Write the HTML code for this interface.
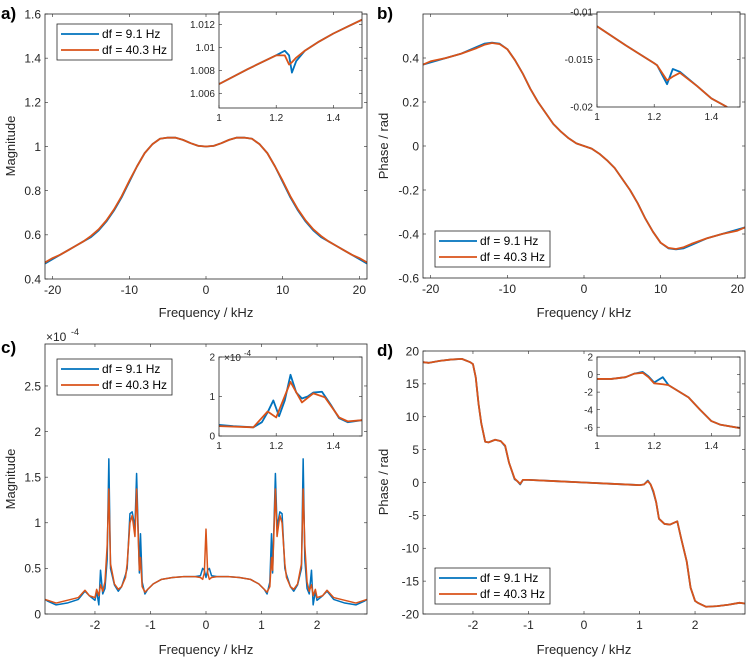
<!DOCTYPE html>
<html><head><meta charset="utf-8"><style>
body{margin:0;background:#fff}
svg{display:block;font-family:"Liberation Sans",Arial,sans-serif}
</style></head><body>
<svg id="fig" width="756" height="661" viewBox="0 0 756 661"></svg>
<script>
// ---------- data ----------
const aFreqPos = [0,1,2,3,4,5,6,7,8,9,10,11,12,13,14,15,16,17,18,19,20,21];
const aBluePos = [1.0,1.003,1.015,1.03,1.04,1.04,1.035,1.01,0.97,0.91,0.84,0.77,0.71,0.66,0.62,0.59,0.57,0.55,0.53,0.51,0.49,0.47];
const aOrangePos = [1.0,1.003,1.015,1.03,1.04,1.04,1.035,1.01,0.97,0.91,0.845,0.775,0.715,0.665,0.625,0.595,0.57,0.55,0.53,0.51,0.495,0.475];
const aiFreq = [1,1.1,1.2,1.23,1.245,1.255,1.27,1.3,1.35,1.4,1.45,1.5];
const aiBlue = [1.0068,1.0081,1.0093,1.0097,1.0093,1.0078,1.0088,1.0097,1.0105,1.0112,1.0118,1.0124];
const aiOrange = [1.0068,1.0081,1.0093,1.0093,1.0085,1.0087,1.0091,1.0097,1.0105,1.0112,1.0118,1.0124];
const bFreqPos = [0,1,2,3,4,5,6,7,8,9,10,11,12,13,14,16,18,20,21];
const bBluePos = [0,-0.012,-0.035,-0.065,-0.10,-0.15,-0.20,-0.26,-0.33,-0.39,-0.44,-0.465,-0.47,-0.465,-0.45,-0.42,-0.40,-0.38,-0.37];
const bOrangePos = [0,-0.012,-0.035,-0.065,-0.10,-0.15,-0.20,-0.26,-0.33,-0.39,-0.44,-0.463,-0.468,-0.46,-0.445,-0.42,-0.40,-0.385,-0.37];
const biFreq = [1,1.1,1.2,1.21,1.245,1.265,1.29,1.35,1.4,1.455];
const biBlue = [-0.0115,-0.0135,-0.0154,-0.0156,-0.0176,-0.0160,-0.0163,-0.0178,-0.0191,-0.0200];
const biOrange = [-0.0115,-0.0135,-0.0154,-0.0156,-0.0172,-0.0168,-0.0164,-0.0178,-0.0191,-0.0200];
const cFreqPos = [0,0.03,0.06,0.1,0.2,0.4,0.6,0.8,0.95,1.05,1.1,1.15,1.18,1.2,1.25,1.28,1.33,1.37,1.42,1.45,1.52,1.58,1.65,1.72,1.75,1.78,1.82,1.86,1.9,1.93,1.97,2.0,2.1,2.18,2.3,2.5,2.7,2.85,2.9];
const cBluePos = [0.40,0.48,0.50,0.42,0.41,0.41,0.40,0.38,0.33,0.27,0.22,0.35,0.88,0.45,1.54,0.95,1.12,1.10,0.50,0.43,0.30,0.25,0.32,0.50,1.70,0.60,0.28,0.22,0.48,0.10,0.25,0.15,0.20,0.25,0.16,0.12,0.10,0.14,0.16];
const cOrangePos = [0.93,0.45,0.38,0.40,0.41,0.41,0.40,0.38,0.33,0.27,0.24,0.30,0.62,0.48,1.37,0.85,1.08,1.00,0.55,0.40,0.30,0.27,0.33,0.55,1.37,0.75,0.35,0.25,0.32,0.20,0.27,0.18,0.20,0.26,0.18,0.15,0.12,0.15,0.16];
const ciFreqB = [1,1.05,1.12,1.15,1.17,1.19,1.21,1.23,1.25,1.27,1.29,1.31,1.33,1.36,1.39,1.42,1.45,1.5];
const ciBlue = [0.28,0.25,0.22,0.35,0.6,0.9,0.5,0.9,1.55,1.1,0.95,1.0,1.1,1.12,0.8,0.45,0.35,0.4];
const ciFreqO = [1,1.12,1.17,1.2,1.25,1.29,1.33,1.37,1.42,1.45,1.5];
const ciOrange = [0.25,0.22,0.62,0.47,1.37,0.85,1.08,0.98,0.47,0.37,0.4];
const dFreq = [-2.9,-2.8,-2.6,-2.4,-2.2,-2.05,-2.0,-1.95,-1.9,-1.85,-1.78,-1.72,-1.6,-1.5,-1.42,-1.35,-1.25,-1.2,-1.15,-1.1,-1.0,-0.5,0,0.5,1.0,1.08,1.15,1.2,1.25,1.3,1.35,1.45,1.55,1.68,1.75,1.85,1.92,2.0,2.05,2.1,2.2,2.4,2.6,2.8,2.9];
const dBlue = [18.3,18.2,18.5,18.7,18.8,18.3,18.0,16,12,9,6.2,6.1,6.5,6.3,5.5,3.0,0.5,0.2,-0.3,0.4,0.4,0.2,0,-0.2,-0.4,-0.3,0.3,-0.3,-1.5,-3.0,-5.5,-6.3,-6.4,-5.9,-8.5,-12,-16,-18,-18.3,-18.5,-18.9,-18.8,-18.6,-18.3,-18.4];
const dOrange = [18.3,18.2,18.5,18.7,18.8,18.3,18.0,16,12,9,6.2,6.1,6.5,6.3,5.6,3.0,0.6,0.2,-0.2,0.4,0.4,0.2,0,-0.2,-0.4,-0.3,0.2,-0.3,-1.3,-3.0,-5.5,-6.3,-6.4,-5.9,-8.5,-12,-16,-18,-18.3,-18.5,-18.9,-18.8,-18.6,-18.3,-18.4];
const diFreq = [1,1.05,1.1,1.13,1.16,1.18,1.2,1.23,1.25,1.28,1.32,1.36,1.4,1.43,1.5];
const diBlue = [-0.5,-0.5,-0.3,0.1,0.3,-0.2,-0.9,-0.3,-1.2,-1.8,-2.6,-4.0,-5.3,-5.7,-6.1];
const diOrange = [-0.5,-0.5,-0.3,0.1,0.2,-0.3,-1.0,-1.1,-1.2,-1.8,-2.6,-4.0,-5.3,-5.7,-6.1];

// ---------- helpers ----------
const NS = 'http://www.w3.org/2000/svg';
const fig = document.getElementById('fig');
const BLUE = '#0072BD', ORANGE = '#D95319', AX = '#262626';
function mk(tag, attrs, parent){const e=document.createElementNS(NS,tag);for(const k in attrs)e.setAttribute(k,attrs[k]);(parent||fig).appendChild(e);return e;}
function mirrorSym(f,v){const F=[],V=[];for(let i=f.length-1;i>0;i--){F.push(-f[i]);V.push(v[i]);}for(let i=0;i<f.length;i++){F.push(f[i]);V.push(v[i]);}return [F,V];}
function mirrorAnti(f,v){const F=[],V=[];for(let i=f.length-1;i>0;i--){F.push(-f[i]);V.push(-v[i]);}for(let i=0;i<f.length;i++){F.push(f[i]);V.push(v[i]);}return [F,V];}

function makeAxes(name,L,T,R,B,xmin,xmax,ymin,ymax,xticks,yticks,fs,xfmt,yfmt){
  const g = mk('g',{});
  
  
  const sx = v => L + (v - xmin) / (xmax - xmin) * (R - L);
  const sy = v => B - (v - ymin) / (ymax - ymin) * (B - T);
  mk('rect',{x:L,y:T,width:R-L,height:B-T,fill:'#fff',stroke:'none'},g);
  const clipId = name+'-clip';
  const cp = mk('clipPath',{id:clipId},g);
  mk('rect',{x:L,y:T,width:R-L,height:B-T},cp);
  const plot = mk('g',{'clip-path':'url(#'+clipId+')'},g);
  const tl = 3;
  xticks.forEach(t=>{
    const x = sx(t);
    mk('line',{x1:x,y1:B,x2:x,y2:B-tl,stroke:AX,'stroke-width':0.6},g);
    mk('line',{x1:x,y1:T,x2:x,y2:T+tl,stroke:AX,'stroke-width':0.6},g);
    const tx = mk('text',{x:x,y:B+fs+3,'font-size':fs,fill:AX,'text-anchor':'middle'},g);
    tx.textContent = xfmt(t);
    
    
  });
  yticks.forEach(t=>{
    const y = sy(t);
    mk('line',{x1:L,y1:y,x2:L+tl,y2:y,stroke:AX,'stroke-width':0.6},g);
    mk('line',{x1:R,y1:y,x2:R-tl,y2:y,stroke:AX,'stroke-width':0.6},g);
    const tx = mk('text',{x:L-4,y:y+fs*0.36,'font-size':fs,fill:AX,'text-anchor':'end'},g);
    tx.textContent = yfmt(t);
    
    
  });
  return {g,plot,sx,sy,L,T,R,B};
}
function drawLine(ax,xs,ys,color,name,w){
  let d='';
  for(let i=0;i<xs.length;i++){d+=(i?'L':'M')+ax.sx(xs[i]).toFixed(2)+','+ax.sy(ys[i]).toFixed(2);}
  const p = mk('path',{d:d,fill:'none',stroke:color,'stroke-width':w||1.8,'stroke-linejoin':'round'},ax.plot);
  
  
}
function frame(ax){mk('rect',{x:ax.L,y:ax.T,width:ax.R-ax.L,height:ax.B-ax.T,fill:'none',stroke:AX,'stroke-width':0.8},ax.g);}
function legend(x,y,name){
  const g = mk('g',{});
  
  
  mk('rect',{x:x,y:y,width:115,height:36,fill:'#fff',stroke:AX,'stroke-width':0.8},g);
  const items=[['df = 9.1 Hz',BLUE],['df = 40.3 Hz',ORANGE]];
  items.forEach((it,i)=>{
    const yy = y+10+i*16;
    mk('line',{x1:x+4,y1:yy,x2:x+42,y2:yy,stroke:it[1],'stroke-width':1.8},g);
    const t = mk('text',{x:x+45,y:yy+4,'font-size':12,fill:'#000'},g);
    t.textContent = it[0];
    
    
  });
}
function txt(x,y,s,size,name,extra){
  const t = mk('text',Object.assign({x:x,y:y,'font-size':size,fill:AX},extra||{}));
  t.textContent = s;
  
  
  return t;
}
const fmt = v => String(Math.round(v*10000)/10000);

// ---------- panel a ----------
let A = makeAxes('panel-a-axes',45,14,367,279,-21,21,0.4,1.6,[-20,-10,0,10,20],[0.4,0.6,0.8,1,1.2,1.4,1.6],12,fmt,fmt);
let [fa,ba] = mirrorSym(aFreqPos,aBluePos); drawLine(A,fa,ba,BLUE,'series-df-9.1');
let [fa2,oa] = mirrorSym(aFreqPos,aOrangePos); drawLine(A,fa2,oa,ORANGE,'series-df-40.3');
frame(A);
let Ai = makeAxes('panel-a-inset',219,12,362,108,1,1.5,1.00472,1.01307,[1,1.2,1.4],[1.006,1.008,1.01,1.012],10,fmt,fmt);
drawLine(Ai,aiFreq,aiBlue,BLUE,'inset-series-df-9.1');
drawLine(Ai,aiFreq,aiOrange,ORANGE,'inset-series-df-40.3');
frame(Ai);
legend(57,24,'legend-a');
txt(206,317,'Frequency / kHz',13,'x-axis-title-a',{'text-anchor':'middle'});
txt(15,146,'Magnitude',13,'y-axis-title-a',{'text-anchor':'middle',transform:'rotate(-90 15 146)'});
txt(1,19,'a)',17,'panel-label-a',{'font-weight':'bold',fill:'#000'});

// ---------- panel b ----------
let Bx = makeAxes('panel-b-axes',423,14,745,278,-21,21,-0.6,0.6,[-20,-10,0,10,20],[-0.6,-0.4,-0.2,0,0.2,0.4],12,fmt,fmt);
let [fb,bb] = mirrorAnti(bFreqPos,bBluePos); drawLine(Bx,fb,bb,BLUE,'series-df-9.1');
let [fb2,ob] = mirrorAnti(bFreqPos,bOrangePos); drawLine(Bx,fb2,ob,ORANGE,'series-df-40.3');
frame(Bx);
let Bi = makeAxes('panel-b-inset',597,12,740,107,1,1.5,-0.02,-0.01,[1,1.2,1.4],[-0.02,-0.015,-0.01],10,fmt,fmt);
drawLine(Bi,biFreq,biBlue,BLUE,'inset-series-df-9.1');
drawLine(Bi,biFreq,biOrange,ORANGE,'inset-series-df-40.3');
frame(Bi);
legend(435,231,'legend-b');
txt(584,317,'Frequency / kHz',13,'x-axis-title-b',{'text-anchor':'middle'});
txt(388,146,'Phase / rad',13,'y-axis-title-b',{'text-anchor':'middle',transform:'rotate(-90 388 146)'});
txt(377,19,'b)',17,'panel-label-b',{'font-weight':'bold',fill:'#000'});

// ---------- panel c ----------
let C = makeAxes('panel-c-axes',45,344,367,614,-2.9,2.9,0,2.96,[-2,-1,0,1,2],[0,0.5,1,1.5,2,2.5],12,fmt,fmt);
let [fc,bc] = mirrorSym(cFreqPos,cBluePos); drawLine(C,fc,bc,BLUE,'series-df-9.1',1.5);
let [fc2,oc] = mirrorSym(cFreqPos,cOrangePos); drawLine(C,fc2,oc,ORANGE,'series-df-40.3',1.5);
frame(C);
txt(46,341,'\u00d710',12,'exponent-label-c');
txt(71,335,'-4',9,'exponent-power-c');
let Ci = makeAxes('panel-c-inset',219,357,362,436,1,1.5,0,2,[1,1.2,1.4],[0,1,2],10,fmt,fmt);
drawLine(Ci,ciFreqB,ciBlue,BLUE,'inset-series-df-9.1');
drawLine(Ci,ciFreqO,ciOrange,ORANGE,'inset-series-df-40.3');
frame(Ci);
txt(224,361,'\u00d710',10,'exponent-label-c-inset');
txt(244,356,'-4',8,'exponent-power-c-inset');
legend(57,359,'legend-c');
txt(206,654,'Frequency / kHz',13,'x-axis-title-c',{'text-anchor':'middle'});
txt(15,479,'Magnitude',13,'y-axis-title-c',{'text-anchor':'middle',transform:'rotate(-90 15 479)'});
txt(1,353,'c)',17,'panel-label-c',{'font-weight':'bold',fill:'#000'});

// ---------- panel d ----------
let D = makeAxes('panel-d-axes',423,351,745,614,-2.9,2.9,-20,20,[-2,-1,0,1,2],[-20,-15,-10,-5,0,5,10,15,20],12,fmt,fmt);
drawLine(D,dFreq,dBlue,BLUE,'series-df-9.1');
drawLine(D,dFreq,dOrange,ORANGE,'series-df-40.3');
frame(D);
let Di = makeAxes('panel-d-inset',597,357,740,436,1,1.5,-7,2,[1,1.2,1.4],[-6,-4,-2,0,2],10,fmt,fmt);
drawLine(Di,diFreq,diBlue,BLUE,'inset-series-df-9.1');
drawLine(Di,diFreq,diOrange,ORANGE,'inset-series-df-40.3');
frame(Di);
legend(435,568,'legend-d');
txt(584,654,'Frequency / kHz',13,'x-axis-title-d',{'text-anchor':'middle'});
txt(388,482,'Phase / rad',13,'y-axis-title-d',{'text-anchor':'middle',transform:'rotate(-90 388 482)'});
txt(377,356,'d)',17,'panel-label-d',{'font-weight':'bold',fill:'#000'});
</script>
</body></html>
